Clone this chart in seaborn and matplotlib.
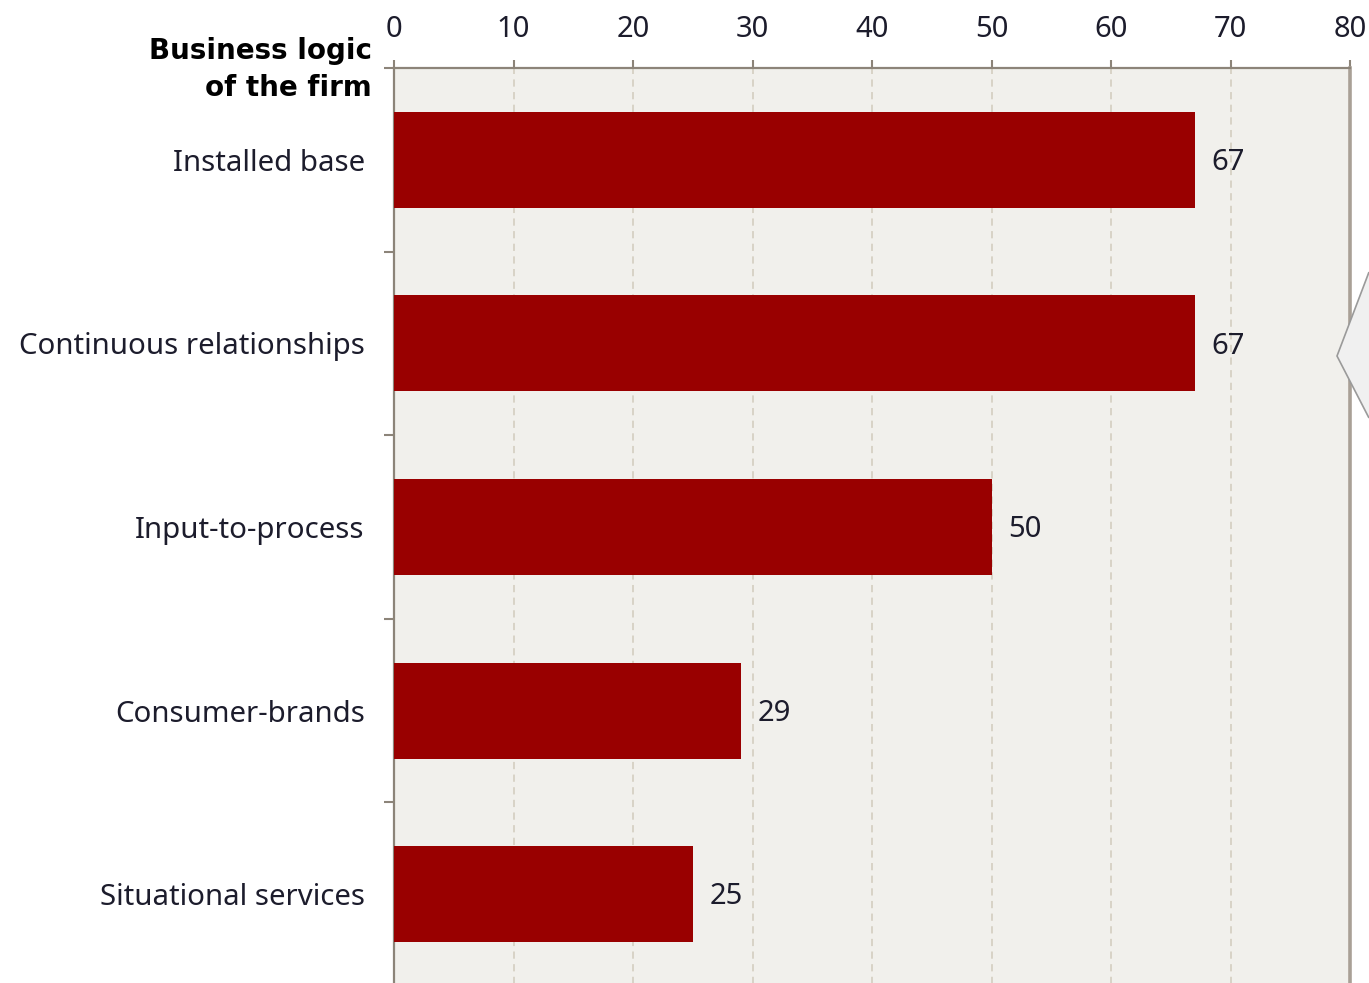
import matplotlib
matplotlib.use("Agg")
import matplotlib.pyplot as plt
from matplotlib.patches import Polygon
import seaborn as sns
import pandas as pd

# Share of firms by business logic (%)
categories = ["Installed base", "Continuous relationships", "Input-to-process",
              "Consumer-brands", "Situational services"]
values = [67, 67, 50, 29, 25]
x_ticks = [0, 10, 20, 30, 40, 50, 60, 70, 80]
title_text = "Business logic\nof the firm"

sns.set_theme(style="white")
plt.rcParams["font.family"] = ["Noto Sans", "DejaVu Sans"]

W, H = 1369, 983
fig = plt.figure(figsize=(W / 100, H / 100), dpi=100)
fig.patch.set_facecolor("white")

left, right, top, bottom = 394, 1350, 68, 986
ax = fig.add_axes([left / W, 1 - bottom / H, (right - left) / W, (bottom - top) / H])
ax.set_facecolor("#f1f0ec")

df = pd.DataFrame({"category": categories, "value": values})
sns.barplot(data=df, x="value", y="category", orient="h", color="#990000",
            saturation=1, width=0.523, linewidth=0, ax=ax, zorder=3)

ax.set_xlim(0, 80)
ax.set_ylim(4.5, -0.5)
ax.set_xlabel("")
ax.set_ylabel("")

# value axis along the top
ax.xaxis.tick_top()
ax.set_xticks(x_ticks)
ax.set_xticklabels([str(t) for t in x_ticks], fontsize=21, color="#1c1c2c")
ax.tick_params(axis="x", which="major", direction="out", length=6, width=1.5,
               color="#8c8479", pad=11, top=True, bottom=False)

# category separators as minor ticks on the left
ax.set_yticks([i - 0.5 for i in range(len(categories) + 1)], minor=True)
ax.tick_params(axis="y", which="minor", direction="out", length=7.5, width=1.5,
               color="#8c8479", left=True)
ax.tick_params(axis="y", which="major", length=0, pad=21)
for lab in ax.get_yticklabels():
    lab.set_fontsize(21.2)
    lab.set_color("#1c1c2c")

# dashed vertical gridlines
for t in x_ticks[1:-1]:
    ax.axvline(t, color="#d6d0c4", linestyle=(0, (4, 3)), linewidth=1.3, zorder=1)

for side in ["top", "left"]:
    ax.spines[side].set_visible(True)
    ax.spines[side].set_color("#8c8479")
    ax.spines[side].set_linewidth(1.6)
ax.spines["right"].set_visible(True)
ax.spines["right"].set_color("#a9a096")
ax.spines["right"].set_linewidth(2.6)
ax.spines["bottom"].set_visible(False)

# value labels at bar ends
for i, v in enumerate(values):
    ax.annotate(str(v), xy=(v, i), xytext=(12, -2), textcoords="offset points",
                ha="left", va="center", fontsize=21, color="#1c1c2c", zorder=4)

fig.text(372 / W, 1 - 37 / H, title_text, ha="right", va="top",
         multialignment="right", fontsize=20, fontweight="bold",
         family="DejaVu Sans", color="black", linespacing=1.4)

# callout pointer on the right edge
pointer = Polygon([(1369 / W, 1 - 272 / H), (1337 / W, 1 - 356 / H),
                   (1369 / W, 1 - 418 / H)], closed=False,
                  transform=fig.transFigure, facecolor="#f0f0f0",
                  edgecolor="#9a9a9a", linewidth=1.2, zorder=10)
fig.add_artist(pointer)

fig.savefig("out.png", dpi=100, facecolor="white")
